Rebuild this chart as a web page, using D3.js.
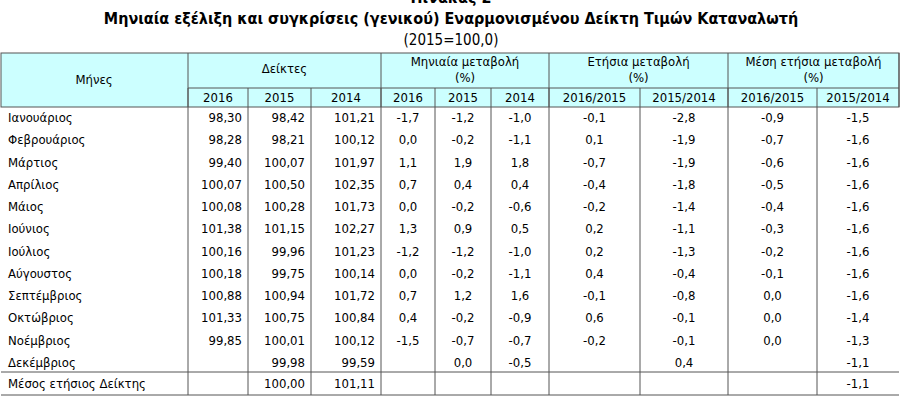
<!DOCTYPE html><html><head><meta charset="utf-8"><script src="https://d3js.org/d3.v7.min.js"></script>
<style>body{margin:0;background:#fff}text{font-family:"Liberation Sans Narrow","DejaVu Sans Condensed",Arial,sans-serif}</style></head><body><svg id="c" width="902" height="403"></svg><script>
const months=["Ιανουάριος","Φεβρουάριος","Μάρτιος","Απρίλιος","Μάιος","Ιούνιος","Ιούλιος","Αύγουστος","Σεπτέμβριος","Οκτώβριος","Νοέμβριος","Δεκέμβριος","Μέσος ετήσιος Δείκτης"];
const idx2016=["98,30","98,28","99,40","100,07","100,08","101,38","100,16","100,18","100,88","101,33","99,85","",""];
const idx2015=["98,42","98,21","100,07","100,50","100,28","101,15","99,96","99,75","100,94","100,75","100,01","99,98","100,00"];
const idx2014=["101,21","100,12","101,97","102,35","101,73","102,27","101,23","100,14","101,72","100,84","100,12","99,59","101,11"];
const mon2016=["-1,7","0,0","1,1","0,7","0,0","1,3","-1,2","0,0","0,7","0,4","-1,5","",""];
const mon2015=["-1,2","-0,2","1,9","0,4","-0,2","0,9","-1,2","-0,2","1,2","-0,2","-0,7","0,0",""];
const mon2014=["-1,0","-1,1","1,8","0,4","-0,6","0,5","-1,0","-1,1","1,6","-0,9","-0,7","-0,5",""];
const ann1615=["-0,1","0,1","-0,7","-0,4","-0,2","0,2","0,2","0,4","-0,1","0,6","-0,2","",""];
const ann1514=["-2,8","-1,9","-1,9","-1,8","-1,4","-1,1","-1,3","-0,4","-0,8","-0,1","-0,1","0,4",""];
const avg1615=["-0,9","-0,7","-0,6","-0,5","-0,4","-0,3","-0,2","-0,1","0,0","0,0","0,0","",""];
const avg1514=["-1,5","-1,6","-1,6","-1,6","-1,6","-1,6","-1,6","-1,6","-1,6","-1,4","-1,3","-1,1","-1,1"];
const groups=["Δείκτες","Μηνιαία μεταβολή|(%)","Ετήσια μεταβολή|(%)","Μέση ετήσια μεταβολή|(%)"];
const subYears=["2016","2015","2014","2016","2015","2014","2016/2015","2015/2014","2016/2015","2015/2014"];
const cols=[idx2016,idx2015,idx2014,mon2016,mon2015,mon2014,ann1615,ann1514,avg1615,avg1514];
const edges=[0,188,248,311,381,435,491,549,640,728,817,899];
const svg=d3.select("#c");
const gc="#555";
svg.append("text").attr("x",451).attr("y",3).attr("text-anchor","middle").attr("font-size",16).attr("font-weight","bold").text("Πίνακας 2");
svg.append("text").attr("x",451).attr("y",24).attr("text-anchor","middle").attr("font-size",16).attr("font-weight","bold").text("Μηνιαία εξέλιξη και συγκρίσεις (γενικού) Εναρμονισμένου Δείκτη Τιμών Καταναλωτή");
svg.append("text").attr("x",451).attr("y",45).attr("text-anchor","middle").attr("font-size",15).text("(2015=100,0)");
const t0=53,r1=88,r2=107;
svg.append("rect").attr("x",1).attr("y",t0).attr("width",898).attr("height",r2-t0).attr("fill","#ccffff").attr("stroke",gc);
svg.append("line").attr("x1",188).attr("x2",899).attr("y1",r1).attr("y2",r1).attr("stroke",gc);
svg.append("text").attr("x",94).attr("y",84).attr("text-anchor","middle").attr("font-size",13).text("Μήνες");
const gEdges=[[1,4],[4,7],[7,9],[9,11]];
groups.forEach((g,i)=>{const [a,b]=gEdges[i];const cx=(edges[a]+edges[b])/2;const ls=g.split("|");
 ls.forEach((l,j)=>svg.append("text").attr("x",cx).attr("y",ls.length==1?73:66+j*16).attr("text-anchor","middle").attr("font-size",13).text(l));
 svg.append("line").attr("x1",edges[b]).attr("x2",edges[b]).attr("y1",t0).attr("y2",r2).attr("stroke",gc);});
svg.append("line").attr("x1",188).attr("x2",188).attr("y1",t0).attr("y2",r2).attr("stroke",gc);
subYears.forEach((s,i)=>{svg.append("text").attr("x",(edges[i+1]+edges[i+2])/2).attr("y",102).attr("text-anchor","middle").attr("font-size",13).text(s);
 svg.append("line").attr("x1",edges[i+1]).attr("x2",edges[i+1]).attr("y1",r1).attr("y2",r2).attr("stroke",gc);});
const y=d3.scalePoint().domain(d3.range(12)).range([117,362]);
const yy=i=>i<12?y(i):383;
for(let i=1;i<11;i++)svg.append("line").attr("x1",edges[i]).attr("x2",edges[i]).attr("y1",r2).attr("y2",395).attr("stroke",gc);
svg.append("line").attr("x1",1).attr("x2",899).attr("y1",372).attr("y2",372).attr("stroke",gc);
svg.append("line").attr("x1",1).attr("x2",899).attr("y1",395).attr("y2",395).attr("stroke",gc);
months.forEach((m,i)=>{svg.append("text").attr("x",8).attr("y",yy(i)+5).attr("font-size",13).text(m);
 cols.forEach((c,k)=>{const cx=(edges[k+1]+edges[k+2])/2;
  svg.append("text").attr("x",k<3?edges[k+2]-6:cx).attr("y",yy(i)+5).attr("text-anchor",k<3?"end":"middle").attr("font-size",13).text(c[i]);});});
</script></body></html>
